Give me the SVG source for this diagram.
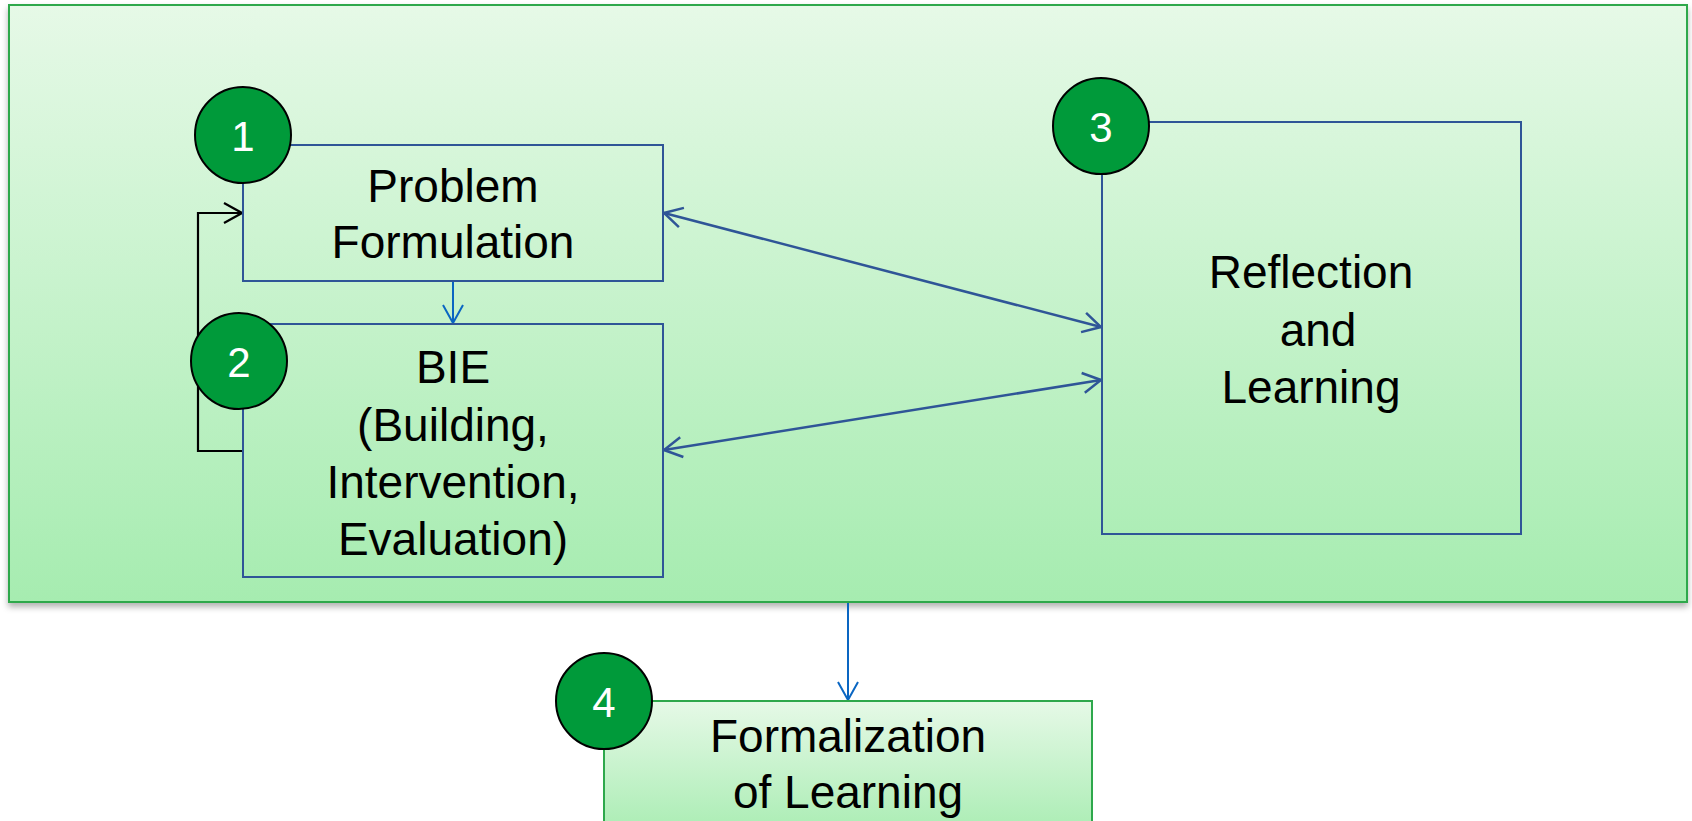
<svg xmlns="http://www.w3.org/2000/svg" width="1692" height="821" viewBox="0 0 1692 821">
<defs>
<linearGradient id="gOuter" x1="0" y1="0" x2="0" y2="1">
<stop offset="0" stop-color="#e6f9e7"/>
<stop offset="1" stop-color="#a6ecb0"/>
</linearGradient>
<linearGradient id="gForm" x1="0" y1="0" x2="0" y2="1">
<stop offset="0" stop-color="#e6f9e7"/>
<stop offset="1" stop-color="#a6ecb0"/>
</linearGradient>
<filter id="shadow" x="-5%" y="-5%" width="110%" height="115%">
<feDropShadow dx="0" dy="4" stdDeviation="3" flood-color="#000" flood-opacity="0.3"/>
</filter>
<marker id="mDark" viewBox="-20 -12 22 24" refX="0" refY="0" markerWidth="22" markerHeight="24" markerUnits="userSpaceOnUse" orient="auto-start-reverse">
<path d="M-18,-10 L0,0 L-18,10" fill="none" stroke="#2f5597" stroke-width="2.5"/>
</marker>
<marker id="mBlue" viewBox="-20 -12 22 24" refX="0" refY="0" markerWidth="22" markerHeight="24" markerUnits="userSpaceOnUse" orient="auto">
<path d="M-18,-10 L0,0 L-18,10" fill="none" stroke="#0a66c2" stroke-width="2"/>
</marker>
<marker id="mBlack" viewBox="-20 -12 22 24" refX="0" refY="0" markerWidth="22" markerHeight="24" markerUnits="userSpaceOnUse" orient="auto">
<path d="M-18,-10 L0,0 L-18,10" fill="none" stroke="#000" stroke-width="2.2"/>
</marker>
</defs>
<style>
.box{fill:none;stroke:#2f5597;stroke-width:2}
.lbl{font-family:"Liberation Sans",Arial,sans-serif;font-size:46px;fill:#000;text-anchor:middle}
.num{font-family:"Liberation Sans",Arial,sans-serif;font-size:42px;fill:#fff;text-anchor:middle}
.badge{fill:#009a3a;stroke:#000;stroke-width:2}
.dark{fill:none;stroke:#2f5597;stroke-width:2.5}
.blue{fill:none;stroke:#0a66c2;stroke-width:2}
.black{fill:none;stroke:#000;stroke-width:2.2}
</style>
<rect width="1692" height="821" fill="#fff"/>
<g id="container">
<rect x="9" y="5" width="1678" height="597" fill="url(#gOuter)" stroke="#2ea84c" stroke-width="2" filter="url(#shadow)"/>
</g>
<g id="connectors">
<line class="blue" x1="453" y1="281" x2="453" y2="323" marker-end="url(#mBlue)"/>
<polyline class="black" points="243,451 198,451 198,213 242,213" marker-end="url(#mBlack)"/>
<line class="dark" x1="664" y1="213" x2="1101" y2="327" marker-start="url(#mDark)" marker-end="url(#mDark)"/>
<line class="dark" x1="664" y1="450" x2="1101" y2="380" marker-start="url(#mDark)" marker-end="url(#mDark)"/>
<line class="blue" x1="848" y1="603" x2="848" y2="700" marker-end="url(#mBlue)"/>
</g>
<g id="node1">
<rect class="box" x="243" y="145" width="420" height="136"/>
<text class="lbl" x="453" y="202">Problem</text>
<text class="lbl" x="453" y="258">Formulation</text>
<circle class="badge" cx="243" cy="135" r="48"/>
<text class="num" x="243" y="151">1</text>
</g>
<g id="node2">
<rect class="box" x="243" y="324" width="420" height="253"/>
<text class="lbl" x="453" y="383">BIE</text>
<text class="lbl" x="453" y="441">(Building,</text>
<text class="lbl" x="453" y="498">Intervention,</text>
<text class="lbl" x="453" y="555">Evaluation)</text>
<circle class="badge" cx="239" cy="361" r="48"/>
<text class="num" x="239" y="377">2</text>
</g>
<g id="node3">
<rect class="box" x="1102" y="122" width="419" height="412"/>
<text class="lbl" x="1311" y="288">Reflection</text>
<text class="lbl" x="1318" y="346">and</text>
<text class="lbl" x="1311" y="403">Learning</text>
<circle class="badge" cx="1101" cy="126" r="48"/>
<text class="num" x="1101" y="142">3</text>
</g>
<g id="node4">
<rect x="604" y="701" width="488" height="140" fill="url(#gForm)" stroke="#2ea84c" stroke-width="2"/>
<text class="lbl" x="848" y="752">Formalization</text>
<text class="lbl" x="848" y="808">of Learning</text>
<circle class="badge" cx="604" cy="701" r="48"/>
<text class="num" x="604" y="717">4</text>
</g>
</svg>
